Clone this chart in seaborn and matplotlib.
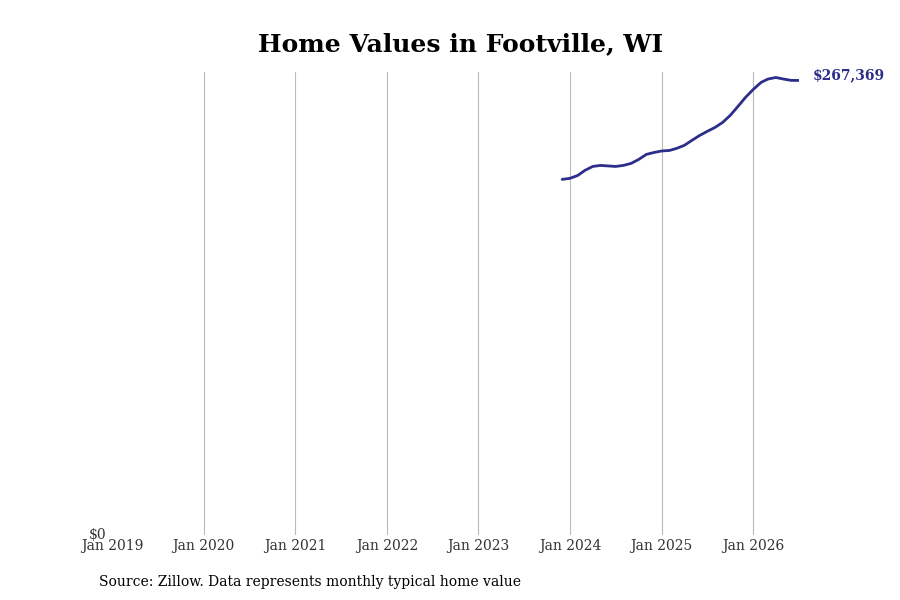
import pandas as pd
import seaborn as sns
import matplotlib.pyplot as plt
import matplotlib.dates as mdates

# monthly typical home value, Dec 2023 - Jul 2026
months = pd.date_range("2023-12-01", "2026-07-01", freq="MS")
values = [209200, 209800, 211500, 214500, 216800, 217400, 217100, 216800,
          217400, 218600, 220900, 223900, 225000, 225900, 226200, 227400,
          229200, 232100, 235000, 237400, 239700, 242700, 246800, 252100,
          257400, 262100, 266200, 268200, 269100, 268200, 267400, 267369]
year_ticks = pd.date_range("2019-01-01", "2026-01-01", freq="YS")

line_color = "#2d2d8a"

df = pd.DataFrame({"date": months, "value": values})

sns.set_style("white")
plt.rcParams["font.family"] = ["DejaVu Serif"]

fig = plt.figure(figsize=(9, 6), dpi=100)
ax = fig.add_axes([0.1244, 0.108, 0.763, 0.772])

sns.lineplot(data=df, x="date", y="value", color=line_color, linewidth=2, ax=ax)

ax.set_xlim(pd.Timestamp("2019-01-01"), pd.Timestamp("2026-07-01"))
ax.set_ylim(0, max(values) * 1.012)
ax.set_xticks(year_ticks)
ax.xaxis.set_major_formatter(mdates.DateFormatter("Jan %Y"))
ax.set_yticks([0])
ax.set_yticklabels(["$0"])
ax.tick_params(axis="both", length=0, labelsize=10, labelcolor="#333333")
ax.tick_params(axis="x", pad=3)
ax.tick_params(axis="y", pad=4)
for lbl in ax.get_yticklabels():
    lbl.set_verticalalignment("center")

ax.grid(axis="x", color="#bbbbbb", linewidth=0.8)
ax.grid(axis="y", visible=False)
# no gridline on the left edge
ax.xaxis.get_gridlines()[0].set_visible(False)
for s in ax.spines.values():
    s.set_visible(False)
ax.set_xlabel("")
ax.set_ylabel("")

ax.annotate(f"${values[-1]:,}", xy=(df["date"].iloc[-1], values[-1]),
            xytext=(10, 3.5), textcoords="offset points", ha="left", va="center",
            fontsize=10, fontweight="bold", color=line_color)

fig.text(0.512, 0.927, "Home Values in Footville, WI", ha="center", va="center",
         fontsize=18, fontweight="bold", color="black")
fig.text(0.11, 0.03, "Source: Zillow. Data represents monthly typical home value",
         ha="left", va="center", fontsize=10, color="black")

fig.savefig("out.png", dpi=100)
